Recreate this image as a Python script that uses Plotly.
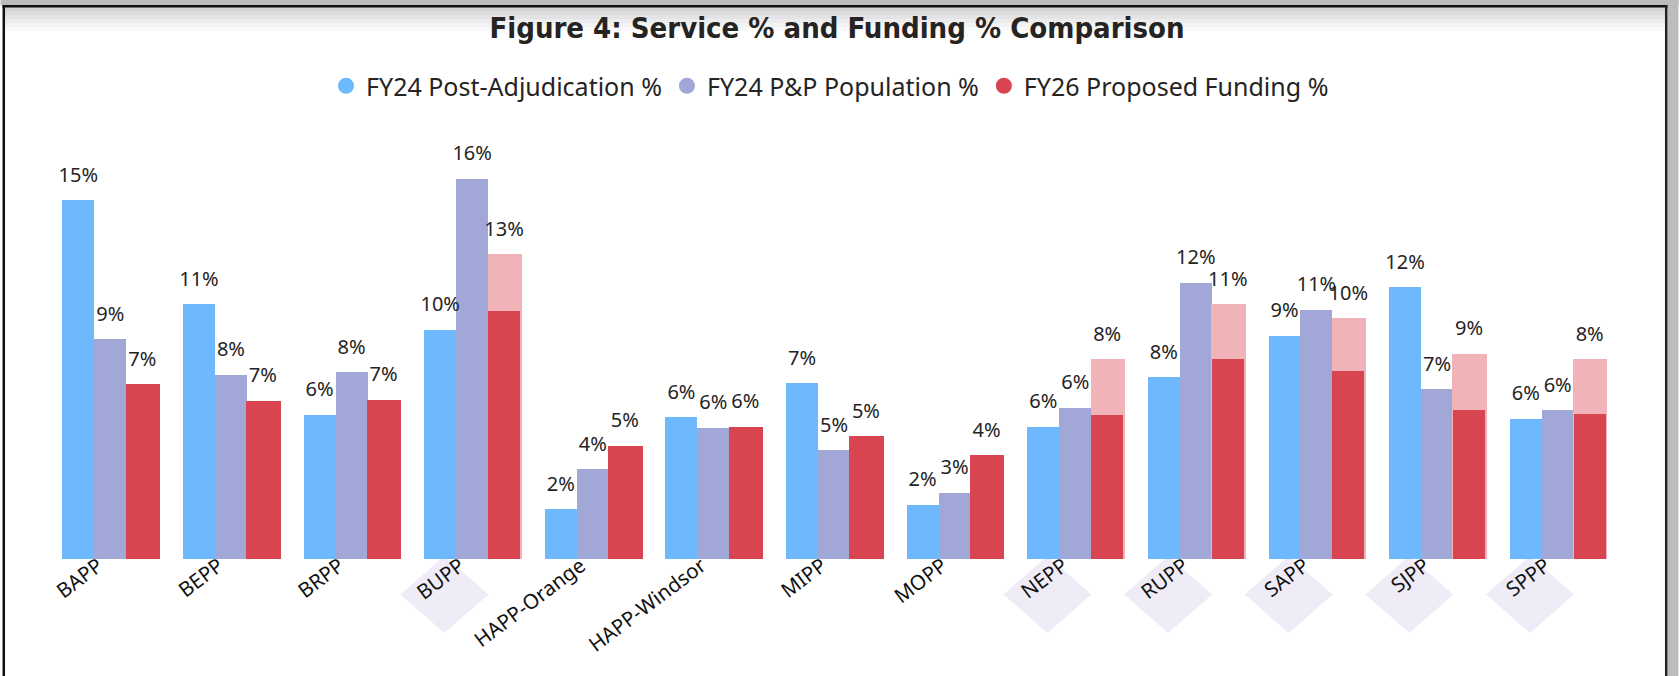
import plotly.graph_objects as go

categories = ["BAPP", "BEPP", "BRPP", "BUPP", "HAPP-Orange", "HAPP-Windsor", "MIPP",
              "MOPP", "NEPP", "RUPP", "SAPP", "SJPP", "SPPP"]
post_adj_pct = [15.2, 10.8, 6.1, 9.7, 2.1, 6.0, 7.45, 2.3, 5.6, 7.7, 9.45, 11.5, 5.95]
pp_pop_pct = [9.3, 7.8, 7.9, 16.1, 3.8, 5.55, 4.6, 2.8, 6.4, 11.7, 10.55, 7.2, 6.3]
funding_total_pct = [7.4, 6.7, 6.75, 12.9, 4.8, 5.6, 5.2, 4.4, 8.45, 10.8, 10.2, 8.7, 8.45]
funding_base_pct = [7.4, 6.7, 6.75, 10.5, 4.8, 5.6, 5.2, 4.4, 6.1, 8.45, 7.95, 6.3, 6.15]
highlighted = [False, False, False, True, False, False, False, False, True, True, True, True, True]

series_names = ["FY24 Post-Adjudication %", "FY24 P&P Population %", "FY26 Proposed Funding %"]
C_BLUE = "#6EB9FE"
C_PURPLE = "#A1A7D7"
C_RED = "#D84550"
C_PALE = "#F0B4B8"
C_DIAMOND = "#EFECF8"
TXT = "#252423"

W, H = 1679, 676
L, R, T, B = 49.5, 60.5, 134, 117
PW, PH = W - L - R, H - T - B


def px_x(px):
    return (px - L) / PW


def px_y(py):
    return (H - B - py) / PH


n = len(categories)
xs = list(range(n))
bw = 0.265
offs = [-1.5 * bw, -0.5 * bw, 0.5 * bw]
centers = [-bw, 0.0, bw]

fig = go.Figure()

fig.add_trace(go.Bar(x=xs, y=post_adj_pct, width=bw, offset=offs[0], marker_color=C_BLUE,
                     marker_line_width=0, showlegend=False, name=series_names[0]))
fig.add_trace(go.Bar(x=xs, y=pp_pop_pct, width=bw, offset=offs[1], marker_color=C_PURPLE,
                     marker_line_width=0, showlegend=False, name=series_names[1]))
pale_w = bw + 0.02
fig.add_trace(go.Bar(x=xs, y=funding_total_pct, width=pale_w, offset=offs[2] - 0.005,
                     marker_color=[C_PALE if h else C_RED for h in highlighted],
                     marker_line_width=0, showlegend=False, name=series_names[2]))
fig.add_trace(go.Bar(x=xs, y=funding_base_pct, width=bw, offset=offs[2], marker_color=C_RED,
                     marker_line_width=0, showlegend=False, name=series_names[2]))

# data labels
for vals, c in [(post_adj_pct, centers[0]), (pp_pop_pct, centers[1]), (funding_total_pct, centers[2])]:
    fig.add_trace(go.Scatter(x=[i + c for i in xs], y=vals, mode="markers+text",
                             text=[f"{int(v + 0.5)}%" for v in vals], textposition="top center",
                             marker=dict(size=20, opacity=0),
                             textfont=dict(family="Noto Sans", size=20, color=TXT),
                             cliponaxis=False, showlegend=False, hoverinfo="skip"))

# legend entries (circles)
for name, col in zip(series_names, [C_BLUE, C_PURPLE, C_RED]):
    fig.add_trace(go.Scatter(x=[None], y=[None], mode="markers", name=name,
                             marker=dict(symbol="circle", size=19, color=col)))

shapes = []
# top shadow gradient
grad = ["#D3D3D5", "#DCDCDE", "#E4E4E6", "#ECECED", "#F3F3F4", "#F9F9F9"]
for k, g in enumerate(grad):
    shapes.append(dict(type="rect", xref="paper", yref="paper", layer="below",
                       x0=px_x(4), x1=px_x(1666), y0=px_y(7 + 4 * k), y1=px_y(7 + 4 * (k + 1)),
                       fillcolor=g, line_width=0))
# outer gray areas
shapes.append(dict(type="rect", xref="paper", yref="paper", layer="below",
                   x0=px_x(0), x1=px_x(W), y0=px_y(0), y1=px_y(5), fillcolor="#BCBCBF", line_width=0))
shapes.append(dict(type="rect", xref="paper", yref="paper", layer="below",
                   x0=px_x(1668), x1=px_x(W), y0=px_y(0), y1=px_y(H), fillcolor="#BCBCBF", line_width=0))
# black border
shapes.append(dict(type="rect", xref="paper", yref="paper", layer="below",
                   x0=px_x(2), x1=px_x(1668), y0=px_y(5), y1=px_y(7.5), fillcolor="#111111", line_width=0))
shapes.append(dict(type="rect", xref="paper", yref="paper", layer="below",
                   x0=px_x(2), x1=px_x(4.5), y0=px_y(5), y1=px_y(H), fillcolor="#111111", line_width=0))
shapes.append(dict(type="rect", xref="paper", yref="paper", layer="below",
                   x0=px_x(1665.5), x1=px_x(1668), y0=px_y(5), y1=px_y(H), fillcolor="#222222", line_width=0))

# highlight diamonds behind the category labels of highlighted categories
d_dx, d_hw = -0.23, 0.365
yt, ym, yb = px_y(556), px_y(594.5), px_y(633)
for i in xs:
    if highlighted[i]:
        cx = i + d_dx
        shapes.append(dict(type="path", xref="x", yref="paper", layer="below",
                           path=f"M{cx - d_hw},{ym} L{cx},{yt} L{cx + d_hw},{ym} L{cx},{yb} Z",
                           fillcolor=C_DIAMOND, line_width=0))

fig.update_layout(
    width=W, height=H,
    margin=dict(l=L, r=R, t=T, b=B, autoexpand=False),
    paper_bgcolor="white", plot_bgcolor="rgba(0,0,0,0)",
    barmode="overlay", bargap=0,
    title=dict(text="Figure 4: Service % and Funding % Comparison",
               x=837 / W, xref="container", xanchor="center",
               y=1 - 28 / H, yref="container", yanchor="middle",
               font=dict(family="DejaVu Sans Condensed, DejaVu Sans", size=29, color=TXT, weight="bold")),
    legend=dict(orientation="h", x=830 / W, xref="container", xanchor="center",
                y=1 - 86 / H, yref="container", yanchor="middle",
                font=dict(family="Noto Sans", size=25, color=TXT),
                itemwidth=30, tracegroupgap=0, bgcolor="rgba(0,0,0,0)"),
    xaxis=dict(range=[-0.5, n - 0.5], tickmode="array", tickvals=[i - 0.1 for i in xs],
               ticktext=categories, ticklabelstandoff=-10,
               tickangle=-37, showgrid=False, zeroline=False, showline=False, ticks="",
               tickfont=dict(family="Noto Sans", size=20.5, color="#111111")),
    yaxis=dict(range=[0, 18], visible=False, showgrid=False, zeroline=False),
    shapes=shapes,
    showlegend=True,
)

fig.write_html("out.html", config={"displayModeBar": False},
               post_script="document.body.style.margin='0';document.body.style.padding='0';")
